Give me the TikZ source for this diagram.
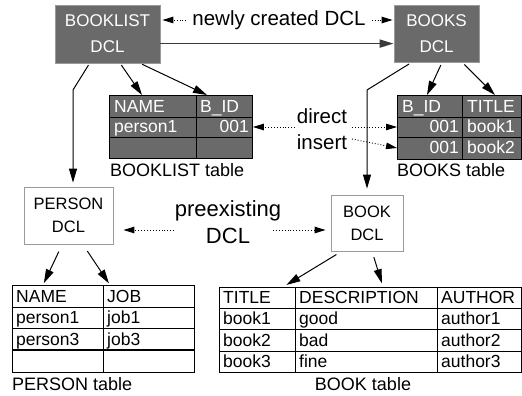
\documentclass[tikz,border=0pt]{standalone}
\usepackage{fontspec}
\setmainfont{Liberation Sans}
\usetikzlibrary{arrows.meta,calc}
\definecolor{stipple}{HTML}{6A6A6A}
\definecolor{edgegray}{HTML}{9A9A9A}
\definecolor{bar}{HTML}{3A3A3A}
\tikzset{
  dclnew/.style={draw=edgegray, line width=0.8pt, fill=stipple, text=white, align=center,
    inner sep=0pt, font=\fontsize{17}{26}\selectfont},
  dclold/.style={draw=edgegray, line width=0.8pt, fill=white, align=center,
    inner sep=0pt, font=\fontsize{16.5}{23}\selectfont},
  tabnew/.style={draw=black, line width=0.9pt, fill=stipple, anchor=north west, inner sep=0pt},
  tabold/.style={draw=black, line width=0.9pt, fill=white, anchor=north west, inner sep=0pt},
  grid/.style={draw=black, line width=0.9pt},
  cell/.style={anchor=base west, inner sep=0pt, font=\fontsize{17.5}{20}\selectfont},
  wcell/.style={cell, text=white},
  caption/.style={anchor=base west, inner sep=0pt, font=\fontsize{18}{20}\selectfont},
  note/.style={align=center, inner xsep=6pt, inner ysep=2pt, font=\fontsize{20.5}{25}\selectfont},
  arr/.style={-{Triangle[length=14pt,width=8pt]}, line width=1pt},
  bigarr/.style={-{Triangle[length=14pt,width=8pt]}, line width=1.8pt, draw=bar},
  dotarr/.style={-{Triangle[length=11pt,width=6.5pt]}, dotted, line width=0.9pt},
}
\begin{document}
\begin{tikzpicture}[x=1pt,y=-1pt]
\useasboundingbox (0,0) rectangle (522,396);

% ---- DCL boxes ----
\node[dclnew, minimum width=105pt, minimum height=58pt] (bldcl) at (107.5,34) {BOOKLIST\\DCL};
\node[dclnew, minimum width=85pt, minimum height=57pt] (bkdcl) at (436.5,33.5) {BOOKS\\DCL};
\node[dclold, minimum width=89pt, minimum height=57pt] (pdcl) at (68.5,215.5) {PERSON\\DCL};
\node[dclold, minimum width=72pt, minimum height=56pt] (bdcl) at (367,223) {BOOK\\DCL};

% ---- BOOKLIST table ----
\node[tabnew, minimum width=143pt, minimum height=63pt] (bltab) at (109,95) {};
\draw[grid] (109,117) -- (252,117) (109,137) -- (252,137) (196,95) -- (196,158);
\node[wcell] (bl11) at (114,112) {NAME};
\node[wcell] (bl12) at (200,112) {B\_ID};
\node[wcell] (bl21) at (114,132) {person1};
\node[wcell, anchor=base east] (bl22) at (249,132) {001};
\node[caption] (blcap) at (110,176) {BOOKLIST table};

% ---- BOOKS table ----
\node[tabnew, minimum width=124pt, minimum height=64pt] (bktab) at (397,95) {};
\draw[grid] (397,117) -- (521,117) (397,137) -- (521,137) (462,95) -- (462,159);
\node[wcell] (bk11) at (402,112) {B\_ID};
\node[wcell] (bk12) at (467,112) {TITLE};
\node[wcell, anchor=base east] (bk21) at (459,132) {001};
\node[wcell] (bk22) at (467,132) {book1};
\node[wcell, anchor=base east] (bk31) at (459,153) {001};
\node[wcell] (bk32) at (467,153) {book2};
\node[caption] (bkcap) at (397,176) {BOOKS table};

% ---- PERSON table ----
\node[tabold, minimum width=182pt, minimum height=87pt] (ptab) at (12,285) {};
\draw[grid] (12,307) -- (194,307) (12,328) -- (194,328) (103,285) -- (103,372);
\draw[grid, line width=1.4pt] (12,350) -- (194,350);
\node[cell] (p11) at (16,302) {NAME};
\node[cell] (p12) at (107,302) {JOB};
\node[cell] (p21) at (16,323) {person1};
\node[cell] (p22) at (107,323) {job1};
\node[cell] (p31) at (16,345) {person3};
\node[cell] (p32) at (107,345) {job3};
\node[caption] (pcap) at (12,390) {PERSON table};

% ---- BOOK table ----
\node[tabold, minimum width=302pt, minimum height=85pt] (btab) at (219,287) {};
\draw[grid] (219,308) -- (521,308) (219,329) -- (521,329) (219,351) -- (521,351)
            (295,287) -- (295,372) (437,287) -- (437,372);
\node[cell] (b11) at (223,303) {TITLE};
\node[cell] (b12) at (299,303) {DESCRIPTION};
\node[cell] (b13) at (441,303) {AUTHOR};
\node[cell] (b21) at (223,324) {book1};
\node[cell] (b22) at (299,324) {good};
\node[cell] (b23) at (441,324) {author1};
\node[cell] (b31) at (223,346) {book2};
\node[cell] (b32) at (299,346) {bad};
\node[cell] (b33) at (441,346) {author2};
\node[cell] (b41) at (223,367) {book3};
\node[cell] (b42) at (299,367) {fine};
\node[cell] (b43) at (441,367) {author3};
\node[caption, anchor=base] (bcap) at (363,390) {BOOK table};

% ---- labels ----
\node[note] (nc) at (279,20) {newly created DCL};
\node[note, inner xsep=0pt] (dir) at (322,116) {direct};
\node[note, inner xsep=0pt] (ins) at (322,142) {insert};
\node[note, font=\fontsize{22}{27}\selectfont] (pre) at (228,222) {preexisting\\DCL};

% ---- new DCL links ----
\draw[dotarr, shorten >=2pt] (nc.west) -- (nc.west -| bldcl.east);
\draw[dotarr, shorten >=1pt] (nc.east) -- (nc.east -| bkdcl.west);
\draw[bigarr] ($(bldcl.north east)+(0,39)$) -- ($(bkdcl.north west)+(0,39)$);

% ---- BOOKLIST DCL to its tables ----
\coordinate (bendl) at (73,90);
\draw[arr, shorten <=2pt, shorten >=4pt] ($(bldcl.south west)!0.33!(bldcl.south east)$)
  -- (bendl) -- (bendl |- pdcl.north);
\draw[arr, shorten <=2pt] ($(bldcl.south west)!0.62!(bldcl.south east)$)
  -- ($(bltab.north west)+(33,0)$);
\draw[arr, shorten <=2pt] ($(bldcl.south west)!0.81!(bldcl.south east)$)
  -- ($(bltab.north west)+(98,0)$);

% ---- BOOKS DCL to its tables ----
\coordinate (bendr) at (367,90);
\draw[arr, shorten <=3pt, shorten >=6pt] ($(bkdcl.south west)!0.21!(bkdcl.south east)$)
  -- (bendr) -- (bendr |- bdcl.north);
\draw[arr, shorten <=3pt] ($(bkdcl.south west)!0.565!(bkdcl.south east)$)
  -- ($(bktab.north west)+(30,0)$);
\draw[arr, shorten <=3pt] ($(bkdcl.south west)!0.8!(bkdcl.south east)$)
  -- ($(bktab.north west)+(98,0)$);

% ---- direct insert ----
\coordinate (dl) at (295,127);
\coordinate (dr) at (352,127);
\coordinate (ir) at (352,139);
\draw[dotarr] (dl) -- (dl -| bltab.east);
\draw[dotarr] (dr) -- (dr -| bktab.west);
\draw[dotarr] (ir) -- ($(bktab.north west)+(0,53)$);

% ---- preexisting DCL ----
\coordinate (pl) at (174,230);
\coordinate (pr) at (273,230);
\draw[dotarr, shorten >=10pt] (pl) -- (pl -| pdcl.east);
\draw[dotarr, shorten >=5pt] (pr) -- (pr -| bdcl.west);

% ---- PERSON / BOOK DCL to their tables ----
\draw[arr, shorten <=8pt, shorten >=2pt] ($(pdcl.south west)!0.43!(pdcl.south east)$)
  -- ($(ptab.north west)+(31,0)$);
\draw[arr, shorten <=8pt, shorten >=2pt] ($(pdcl.south west)!0.66!(pdcl.south east)$)
  -- ($(ptab.north west)+(98,0)$);
\draw[arr, shorten <=6pt, shorten >=4pt] ($(bdcl.south west)!0.15!(bdcl.south east)$)
  -- ($(btab.north west)+(64,0)$);
\draw[arr, shorten <=6pt, shorten >=4pt] ($(bdcl.south west)!0.57!(bdcl.south east)$)
  -- ($(btab.north west)+(164,0)$);
\end{tikzpicture}
\end{document}
